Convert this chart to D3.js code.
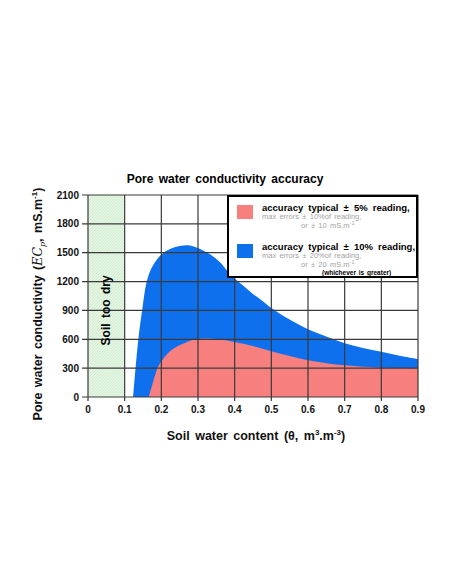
<!DOCTYPE html>
<html>
<head>
<meta charset="utf-8">
<script src="https://cdn.jsdelivr.net/npm/d3@7"></script>
<style>
  body { margin: 0; background: #fff; }
  text { font-family: "Liberation Sans", Arial, sans-serif; }
</style>
</head>
<body>
<div id="chart"></div>
<script>
/* DATA */
const xTicks = [0, 0.1, 0.2, 0.3, 0.4, 0.5, 0.6, 0.7, 0.8, 0.9];
const yTicks = [0, 300, 600, 900, 1200, 1500, 1800, 2100];

// upper edge of the +-10% band (blue)
const blueX = [0.123, 0.137, 0.149, 0.159, 0.172, 0.19, 0.21, 0.227, 0.25, 0.273, 0.29, 0.31, 0.336, 0.36, 0.38, 0.40, 0.427, 0.45, 0.473, 0.5, 0.545, 0.6, 0.65, 0.7, 0.75, 0.8, 0.85, 0.9];
const blueY = [0, 590, 937, 1180, 1330, 1441, 1510, 1545, 1570, 1578, 1562, 1530, 1475, 1400, 1310, 1232, 1145, 1070, 1007, 925, 816, 705, 630, 560, 510, 470, 430, 395];

// upper edge of the +-5% band (red)
const redX = [0.166, 0.18, 0.191, 0.2, 0.21, 0.227, 0.245, 0.264, 0.29, 0.314, 0.34, 0.36, 0.4, 0.45, 0.5, 0.55, 0.6, 0.65, 0.7, 0.75, 0.8, 0.85, 0.9];
const redY = [0, 190, 312, 370, 420, 486, 530, 562, 597, 608, 605, 597, 572, 530, 475, 425, 382, 352, 330, 315, 305, 302, 300];

/* CONSTANTS */
const W = 452, H = 584;
const margin = { left: 88, top: 195 };
const width = 330, height = 202;
const blue = '#0f70ee', red = '#f7807f';

const svg = d3.select('#chart').append('svg')
  .attr('width', W).attr('height', H);

const defs = svg.append('defs');
const pat = defs.append('pattern')
  .attr('id', 'hatch')
  .attr('patternUnits', 'userSpaceOnUse')
  .attr('width', 3).attr('height', 3);
pat.append('rect').attr('width', 3).attr('height', 3).attr('fill', '#e2f6e1');
pat.append('path').attr('d', 'M0,3 L3,0').attr('stroke', '#c3e0c2').attr('stroke-width', 0.5);

const g = svg.append('g').attr('transform', `translate(${margin.left}, ${margin.top})`);

// scales
const x = d3.scaleLinear().domain([0, 0.9]).range([0, width]);
const y = d3.scaleLinear().domain([0, 2100]).range([height, 0]);

// "soil too dry" zone
g.append('rect')
  .attr('x', x(0)).attr('y', y(2100))
  .attr('width', x(0.1) - x(0)).attr('height', y(0) - y(2100))
  .attr('fill', 'url(#hatch)');

// bands
const area = d3.area()
  .x((d) => x(d[0]))
  .y0(y(0))
  .y1((d) => y(d[1]))
  .curve(d3.curveCatmullRom.alpha(0.5));

g.append('path')
  .datum(blueX.map((v, i) => [v, blueY[i]]))
  .attr('fill', blue)
  .attr('d', area);

g.append('path')
  .datum(redX.map((v, i) => [v, redY[i]]))
  .attr('fill', red)
  .attr('d', area);

// grid
g.append('g')
  .selectAll('line')
  .data(yTicks)
  .join('line')
  .attr('x1', -6).attr('x2', width)
  .attr('y1', (d) => y(d)).attr('y2', (d) => y(d))
  .attr('stroke', '#3a3a3a').attr('stroke-width', 1.2);

g.append('g')
  .selectAll('line')
  .data(xTicks)
  .join('line')
  .attr('x1', (d) => x(d)).attr('x2', (d) => x(d))
  .attr('y1', y(2100)).attr('y2', y(0) + 4)
  .attr('stroke', '#3a3a3a').attr('stroke-width', 1.2);

// tick labels
g.append('g')
  .selectAll('text')
  .data(yTicks)
  .join('text')
  .attr('x', -9).attr('y', (d) => y(d) + 3.5)
  .attr('text-anchor', 'end')
  .attr('font-size', 10).attr('font-weight', 'bold').attr('fill', '#111')
  .text((d) => d);

g.append('g')
  .selectAll('text')
  .data(xTicks)
  .join('text')
  .attr('x', (d) => x(d)).attr('y', y(0) + 16)
  .attr('text-anchor', 'middle')
  .attr('font-size', 10).attr('font-weight', 'bold').attr('fill', '#111')
  .text((d) => d);

// soil too dry
g.append('text')
  .attr('transform', `translate(${x(0.05) + 4}, ${y(900)}) rotate(-90)`)
  .attr('text-anchor', 'middle')
  .attr('font-size', 12).attr('font-weight', 'bold')
  .attr('word-spacing', 2)
  .text('Soil too dry');

// title
svg.append('text')
  .attr('x', 225).attr('y', 183)
  .attr('text-anchor', 'middle')
  .attr('font-size', 12).attr('font-weight', 'bold')
  .attr('word-spacing', 2)
  .text('Pore water conductivity accuracy');

// axis labels
const xl = svg.append('text')
  .attr('x', 256).attr('y', 440)
  .attr('text-anchor', 'middle')
  .attr('font-size', 12.5).attr('font-weight', 'bold').attr('fill', '#111')
  .attr('word-spacing', 2);
xl.append('tspan').text('Soil water content (θ, m');
xl.append('tspan').attr('font-size', 8).attr('dy', -5).text('3');
xl.append('tspan').attr('dy', 5).text('.m');
xl.append('tspan').attr('font-size', 8).attr('dy', -5).text('-3');
xl.append('tspan').attr('dy', 5).text(')');

const yl = svg.append('text')
  .attr('transform', 'translate(42, 304) rotate(-90)')
  .attr('text-anchor', 'middle')
  .attr('font-size', 12.5).attr('font-weight', 'bold').attr('fill', '#111')
  .attr('word-spacing', 2);
yl.append('tspan').text('Pore water conductivity (');
yl.append('tspan').attr('font-family', 'DejaVu Serif').attr('font-style', 'italic').attr('font-weight', 'normal').text('EC');
yl.append('tspan').attr('font-family', 'DejaVu Serif').attr('font-style', 'italic').attr('font-weight', 'normal').attr('font-size', 8).attr('dy', 3).text('p');
yl.append('tspan').attr('dy', -3).text(', mS.m');
yl.append('tspan').attr('font-size', 8).attr('dy', -5).text('-1');
yl.append('tspan').attr('dy', 5).text(')');

// legend
const lg = svg.append('g');
lg.append('rect')
  .attr('x', 228).attr('y', 196).attr('width', 189).attr('height', 81)
  .attr('fill', '#fff').attr('stroke', '#000').attr('stroke-width', 2);

const legendItems = [
  { color: red, top: 205, head: 'accuracy typical ± 5%  reading,', max: 'max errors ± 10%of reading,', or: '10' },
  { color: blue, top: 244, head: 'accuracy typical ± 10% reading,', max: 'max errors ± 20%of reading,', or: '20' },
];

legendItems.forEach((d) => {
  lg.append('rect')
    .attr('x', 237).attr('y', d.top).attr('width', 16).attr('height', 14)
    .attr('fill', d.color);
  lg.append('text')
    .attr('x', 262).attr('y', d.top + 5.5)
    .attr('font-size', 9.5).attr('font-weight', 'bold')
    .attr('word-spacing', 2.5)
    .text(d.head);
  lg.append('text')
    .attr('x', 262).attr('y', d.top + 14)
    .attr('font-size', 7.5).attr('fill', '#a3a3a3')
    .attr('word-spacing', 1.2)
    .text(d.max);
  const t = lg.append('text')
    .attr('x', 301).attr('y', d.top + 23)
    .attr('font-size', 7.5).attr('fill', '#a3a3a3')
    .attr('word-spacing', 1.2);
  t.append('tspan').text(`or ± ${d.or} mS.m`);
  t.append('tspan').attr('font-size', 5.5).attr('dy', -3).text('-1');
});

lg.append('text')
  .attr('x', 322).attr('y', 274.5)
  .attr('font-size', 6.5).attr('font-weight', 'bold')
  .attr('word-spacing', 1)
  .text('(whichever is greater)');
</script>
</body>
</html>
